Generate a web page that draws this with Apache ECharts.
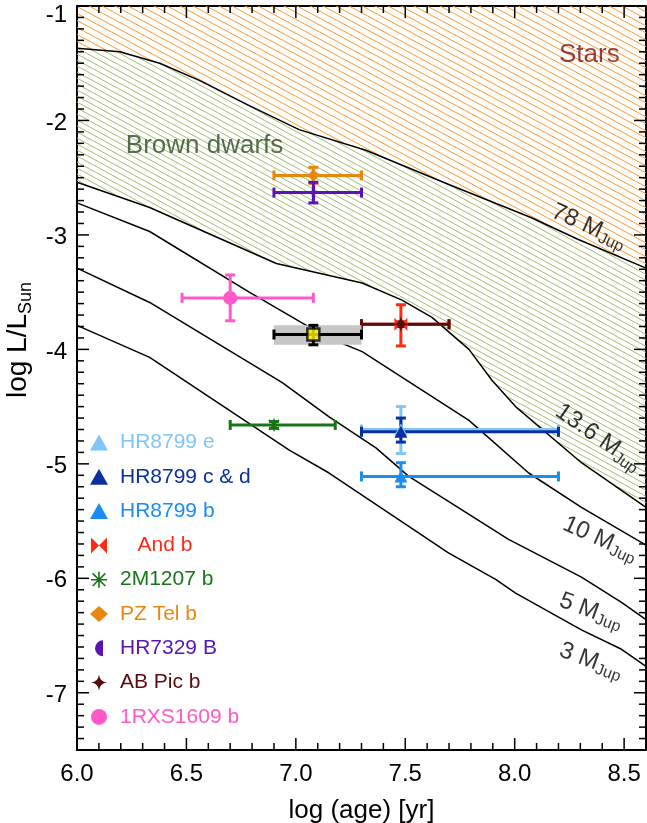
<!DOCTYPE html>
<html>
<head>
<meta charset="utf-8">
<script src="https://cdn.jsdelivr.net/npm/echarts@6/dist/echarts.min.js"></script>
<style>
  html, body { margin: 0; padding: 0; background: #fff; }
  #chart { width: 647px; height: 823px; }
</style>
</head>
<body>
<div id="chart"></div>
<script>
// ---- Evolutionary tracks: log(age/yr) vs log(L/Lsun) ----
const track78Age  = [6.00, 6.195, 6.378, 6.559, 6.787, 7.015, 7.320, 7.699, 8.077, 8.291, 8.60];
const track78L    = [-1.37, -1.40, -1.50, -1.65, -1.87, -2.08, -2.26, -2.56, -2.85, -3.04, -3.29];
const track136Age = [6.00, 6.332, 6.911, 7.303, 7.485, 7.622, 7.791, 7.896, 8.004, 8.305, 8.60];
const track136L   = [-2.54, -2.76, -3.25, -3.42, -3.57, -3.72, -4.00, -4.27, -4.50, -4.99, -5.38];
const track10Age  = [6.00, 6.332, 6.787, 7.138, 7.303, 7.791, 8.064, 8.305, 8.60];
const track10L    = [-2.72, -2.97, -3.50, -3.89, -4.02, -4.62, -5.08, -5.38, -5.71];
const track5Age   = [6.00, 6.332, 6.938, 7.152, 7.366, 7.516, 7.699, 7.972, 8.305, 8.488, 8.60];
const track5L     = [-3.29, -3.59, -4.29, -4.59, -4.86, -5.11, -5.33, -5.66, -5.99, -6.21, -6.36];
const track3Age   = [6.00, 6.332, 6.970, 7.152, 7.699, 7.913, 8.004, 8.305, 8.488, 8.60];
const track3L     = [-3.79, -4.07, -4.88, -5.08, -5.78, -6.01, -6.13, -6.45, -6.62, -6.77];

// ---- Companions ----
const names   = ['HR8799 e', 'HR8799 c & d', 'HR8799 b', 'And b', '2M1207 b', 'PZ Tel b', 'HR7329 B', 'AB Pic b', '1RXS1609 b'];
const ages    = [7.48, 7.48, 7.48, 7.48, 6.90, 7.08, 7.08, 7.48, 6.70];
const ageLo   = [7.30, 7.30, 7.30, 7.30, 6.70, 6.90, 6.90, 7.30, 6.48];
const ageHi   = [8.20, 8.20, 8.20, 7.70, 7.18, 7.30, 7.30, 7.70, 7.08];
const lum     = [-4.70, -4.72, -5.11, -3.78, -4.66, -2.48, -2.63, -3.78, -3.55];
const lumLo   = [-4.91, -4.81, -5.20, -3.97, -4.69, -2.55, -2.72, -3.80, -3.75];
const lumHi   = [-4.50, -4.60, -4.99, -3.61, -4.63, -2.41, -2.54, -3.76, -3.35];

// New companion with its uncertainty box
const targetAge = [7.08], targetAgeLo = [6.90], targetAgeHi = [7.30];
const targetL = [-3.87], targetLLo = [-3.96], targetLHi = [-3.79];

// ---- Axes ----
const xRange = [6.0, 8.6];
const yRange = [-7.5, -1.0];
const xTickLabels = [6.0, 6.5, 7.0, 7.5, 8.0, 8.5];
const yTickLabels = [-7, -6, -5, -4, -3, -2, -1];
const minorStep = 0.1;

// ---- Annotations ----
const trackLabelText = ['78', '13.6', '10', '5', '3'];
const trackLabelAge  = [8.337, 8.380, 8.389, 8.348, 8.348];
const trackLabelL    = [-2.934, -4.777, -5.664, -6.293, -6.729];
const regionLabelText = ['Stars', 'Brown dwarfs'];
const regionLabelAge  = [8.341, 6.583];
const regionLabelL    = [-1.428, -2.223];

const FONT = '"Liberation Sans", Helvetica, Arial, sans-serif';

const markerColor = ['#7FC6F7', '#0A2FA3', '#1A8CF5', '#FF2A14', '#167516', '#E8870E', '#5A14B6', '#5C0B0B', '#FF58C8'];
const markerSymbol = [
  'triangle', 'triangle', 'triangle',
  'path://M0,0 L10,10 L0,20 Z M20,0 L10,10 L20,20 Z',
  'path://M9,0 H11 V20 H9 Z M0,9 H20 V11 H0 Z M1.4,2.8 L2.8,1.4 L18.6,17.2 L17.2,18.6 Z M17.2,1.4 L18.6,2.8 L2.8,18.6 L1.4,17.2 Z',
  'diamond',
  'path://M10,0 A10,10 0 0,0 10,20 Z',
  'path://M10,0 Q11,9 20,10 Q11,11 10,20 Q9,11 0,10 Q9,9 10,0 Z',
  'circle'
];
const markerSize = [[13, 12], [13, 12], [13, 12], 13, 13, 12, [7, 14], 16, 14];

function steps(a, b, d) {
  const out = [];
  const n = Math.round((b - a) / d);
  for (let i = 0; i <= n; i++) out.push(+(a + i * d).toFixed(3));
  return out;
}

function hatch(color, w, h, lw) {
  const c = document.createElement('canvas');
  c.width = w; c.height = h;
  const g = c.getContext('2d');
  g.strokeStyle = color; g.lineWidth = lw;
  for (let k = -1; k <= 1; k++) {
    g.beginPath();
    g.moveTo(-w, -h + k * h);
    g.lineTo(2 * w, 2 * h + k * h);
    g.stroke();
  }
  return c;
}
const starHatch = hatch('#FF9A2E', 13, 7, 1);
const bdHatch = hatch('#A2BD70', 11, 6, 1);

const series = [];

// Stellar region: above the 78 MJup track
series.push({
  type: 'custom', name: 'stars-region', silent: true, clip: true, z: 1,
  data: [[xRange[0], yRange[1]]],
  renderItem: (params, api) => {
    const pts = track78Age.map((a, i) => api.coord([a, track78L[i]]));
    pts.push(api.coord([xRange[1], yRange[1]]), api.coord([xRange[0], yRange[1]]));
    return { type: 'polygon', shape: { points: pts }, style: { fill: { image: starHatch, repeat: 'repeat' } } };
  }
});
// Brown dwarf region: between the 78 and 13.6 MJup tracks
series.push({
  type: 'custom', name: 'bd-region', silent: true, clip: true, z: 1,
  data: [[xRange[0], yRange[1]]],
  renderItem: (params, api) => {
    const pts = track78Age.map((a, i) => api.coord([a, track78L[i]]));
    for (let i = track136Age.length - 1; i >= 0; i--) pts.push(api.coord([track136Age[i], track136L[i]]));
    return { type: 'polygon', shape: { points: pts }, style: { fill: { image: bdHatch, repeat: 'repeat' } } };
  }
});

// Mass tracks
[[track78Age, track78L], [track136Age, track136L], [track10Age, track10L], [track5Age, track5L], [track3Age, track3L]]
  .forEach(([ax, ly], k) => {
    series.push({
      type: 'line', name: 'track-' + k, silent: true, z: 2,
      data: ax.map((a, i) => [a, ly[i]]),
      symbol: 'none', smooth: false,
      lineStyle: { color: '#000', width: 1.5 }
    });
  });

function errorBars(name, color, x, xl, xh, y, yl, yh, z) {
  return {
    type: 'custom', name: name, silent: true, z: z,
    encode: { x: 0, y: 1 },
    data: [[x, y, xl, xh, yl, yh]],
    renderItem: (params, api) => {
      const cx = api.value(0), cy = api.value(1);
      const pL = api.coord([api.value(2), cy]);
      const pR = api.coord([api.value(3), cy]);
      const pB = api.coord([cx, api.value(4)]);
      const pT = api.coord([cx, api.value(5)]);
      const st = { stroke: color, lineWidth: 3, fill: null };
      const cap = 5;
      const kids = [];
      if (pR[0] - pL[0] > 1) {
        kids.push({ type: 'line', shape: { x1: pL[0], y1: pL[1], x2: pR[0], y2: pR[1] }, style: st });
        kids.push({ type: 'line', shape: { x1: pL[0], y1: pL[1] - cap, x2: pL[0], y2: pL[1] + cap }, style: st });
        kids.push({ type: 'line', shape: { x1: pR[0], y1: pR[1] - cap, x2: pR[0], y2: pR[1] + cap }, style: st });
      }
      if (pB[1] - pT[1] > 1) {
        kids.push({ type: 'line', shape: { x1: pT[0], y1: pT[1], x2: pB[0], y2: pB[1] }, style: st });
        kids.push({ type: 'line', shape: { x1: pT[0] - cap, y1: pT[1], x2: pT[0] + cap, y2: pT[1] }, style: st });
        kids.push({ type: 'line', shape: { x1: pB[0] - cap, y1: pB[1], x2: pB[0] + cap, y2: pB[1] }, style: st });
      }
      return { type: 'group', children: kids };
    }
  };
}

// Drawing order of the companions
const drawOrder = [0, 1, 2, 3, 7, 4, 5, 6, 8];
drawOrder.forEach((i) => {
  series.push(errorBars(names[i] + ' err', markerColor[i], ages[i], ageLo[i], ageHi[i], lum[i], lumLo[i], lumHi[i], 3));
  series.push({
    type: 'scatter', name: names[i], z: 3,
    symbol: markerSymbol[i], symbolSize: markerSize[i], symbolKeepAspect: true,
    itemStyle: { color: markerColor[i], opacity: 1 },
    data: [[ages[i], lum[i]]],
    silent: true
  });
});

// New companion: grey uncertainty box, black error bars, yellow square
series.push({
  type: 'custom', name: 'target-box', silent: true, z: 3,
  data: [[targetAgeLo[0], targetLLo[0], targetAgeHi[0], targetLHi[0]]],
  encode: { x: [0, 2], y: [1, 3] },
  renderItem: (params, api) => {
    const p0 = api.coord([api.value(0), api.value(3)]);
    const p1 = api.coord([api.value(2), api.value(1)]);
    return { type: 'rect', shape: { x: p0[0], y: p0[1], width: p1[0] - p0[0], height: p1[1] - p0[1] }, style: { fill: '#C6C6C6' } };
  }
});
series.push(errorBars('target-err', '#000', targetAge[0], targetAgeLo[0], targetAgeHi[0], targetL[0], targetLLo[0], targetLHi[0], 3));
series.push({
  type: 'scatter', name: 'target', z: 3, silent: true,
  symbol: 'rect', symbolSize: 12,
  itemStyle: { color: '#FFF200', borderColor: '#000', borderWidth: 2.5 },
  data: [[targetAge[0], targetL[0]]]
});

// Track labels
series.push({
  type: 'scatter', name: 'track-labels', silent: true, z: 5, symbolSize: 0,
  data: trackLabelText.map((t, i) => ({
    value: [trackLabelAge[i], trackLabelL[i]],
    label: {
      show: true, position: 'inside',
      rotate: [-24, -35, -24, -20, -20][i],
      formatter: '{m|' + t + ' M}{s|Jup}',
      rich: {
        m: { fontSize: 24, fontFamily: FONT, color: '#000', verticalAlign: 'top', lineHeight: 26 },
        s: { fontSize: 16, fontFamily: FONT, color: '#000', verticalAlign: 'bottom', lineHeight: 16, padding: [14, 0, 0, 0] }
      }
    }
  }))
});
// Region labels
series.push({
  type: 'scatter', name: 'region-labels', silent: true, z: 5, symbolSize: 0,
  data: regionLabelText.map((t, i) => ({
    value: [regionLabelAge[i], regionLabelL[i]],
    label: {
      show: true, position: 'inside', formatter: t,
      fontSize: 26, fontFamily: FONT,
      color: ['#7A0F0F', '#2F4A1F'][i]
    }
  }))
});

// Inward ticks on all four sides of the frame: long at the labelled values, short every 0.1
const xTicks = steps(xRange[0], xRange[1], minorStep);
const yTicks = steps(yRange[0], yRange[1], minorStep);
const isMajor = (list, v) => list.some(m => Math.abs(m - v) < 1e-6);
series.push({
  type: 'custom', name: 'frame-ticks', silent: true, z: 10,
  encode: { x: 0, y: 1 },
  data: [[(xRange[0] + xRange[1]) / 2, (yRange[0] + yRange[1]) / 2]],
  renderItem: (params, api) => {
    const kids = [];
    const st = { stroke: '#000', lineWidth: 1.5, fill: null };
    xTicks.forEach(v => {
      const pb = api.coord([v, yRange[0]]);
      const pt = api.coord([v, yRange[1]]);
      const len = isMajor(xTickLabels, v) ? 12 : 7;
      kids.push({ type: 'line', shape: { x1: pb[0], y1: pb[1], x2: pb[0], y2: pb[1] - len }, style: st });
      kids.push({ type: 'line', shape: { x1: pt[0], y1: pt[1], x2: pt[0], y2: pt[1] + len }, style: st });
    });
    yTicks.forEach(v => {
      const pl = api.coord([xRange[0], v]);
      const pr = api.coord([xRange[1], v]);
      const len = isMajor(yTickLabels, v) ? 12 : 7;
      kids.push({ type: 'line', shape: { x1: pl[0], y1: pl[1], x2: pl[0] + len, y2: pl[1] }, style: st });
      kids.push({ type: 'line', shape: { x1: pr[0], y1: pr[1], x2: pr[0] - len, y2: pr[1] }, style: st });
    });
    return { type: 'group', children: kids };
  }
});

const frameLine = { show: true, onZero: false, lineStyle: { color: '#000', width: 2 } };
const noTick = { show: false };
const noSplit = { show: false };

const chart = echarts.init(document.getElementById('chart'), null, { renderer: 'canvas' });
chart.setOption({
  animation: false,
  backgroundColor: '#fff',
  grid: { left: 77, right: 1, top: 6, bottom: 73, containLabel: false, outerBoundsMode: 'none' },
  xAxis: [
    {
      type: 'value', position: 'bottom', min: xRange[0], max: xRange[1], interval: 0.5,
      axisLine: frameLine, axisTick: noTick, splitLine: noSplit,
      axisLabel: {
        show: true, customValues: xTickLabels, fontSize: 24, fontFamily: FONT, color: '#000', margin: 12,
        formatter: v => Number(v).toFixed(1)
      },
      name: 'log (age) [yr]', nameLocation: 'middle', nameGap: 48,
      nameTextStyle: { fontSize: 26, fontFamily: FONT, color: '#000' }
    },
    {
      type: 'value', position: 'top', min: xRange[0], max: xRange[1], interval: 0.5,
      axisLine: frameLine, axisTick: noTick, splitLine: noSplit, axisLabel: { show: false }
    }
  ],
  yAxis: [
    {
      type: 'value', position: 'left', min: yRange[0], max: yRange[1], interval: 0.5,
      axisLine: frameLine, axisTick: noTick, splitLine: noSplit,
      axisLabel: {
        show: true, customValues: yTickLabels, fontSize: 24, fontFamily: FONT, color: '#000', margin: 10,
        formatter: v => {
          const s = String(Math.round(v));
          return Math.round(v) === yRange[1] ? '{top|' + s + '}' : '{n|' + s + '}';
        },
        rich: {
          n: { fontSize: 24, fontFamily: FONT, color: '#000', padding: [5, 0, 0, 0] },
          top: { fontSize: 24, fontFamily: FONT, color: '#000', padding: [18, 0, 0, 0] }
        }
      },
      name: '{m|log L/L}{s|Sun}', nameLocation: 'middle', nameRotate: 90, nameGap: 38,
      nameTextStyle: {
        color: '#000', padding: [0, 0, 0, 76],
        rich: {
          m: { fontSize: 28, fontFamily: FONT, color: '#000', verticalAlign: 'top', lineHeight: 30 },
          s: { fontSize: 18, fontFamily: FONT, color: '#000', verticalAlign: 'bottom', lineHeight: 18, padding: [15, 0, 0, 0] }
        }
      }
    },
    {
      type: 'value', position: 'right', min: yRange[0], max: yRange[1], interval: 0.5,
      axisLine: frameLine, axisTick: noTick, splitLine: noSplit, axisLabel: { show: false }
    }
  ],
  legend: {
    orient: 'vertical', left: 90, top: 432, padding: 0,
    itemWidth: 18, itemHeight: 16, itemGap: 13.3,
    selectedMode: false,
    formatter: n => n === 'And b' ? '   And b' : n,
    textStyle: { fontSize: 21, lineHeight: 20, fontFamily: FONT, padding: [0, 0, 0, 7] },
    data: names.map((n, i) => ({ name: n, itemStyle: { color: markerColor[i] }, textStyle: { color: markerColor[i] } }))
  },
  series: series
});
</script>
</body>
</html>
